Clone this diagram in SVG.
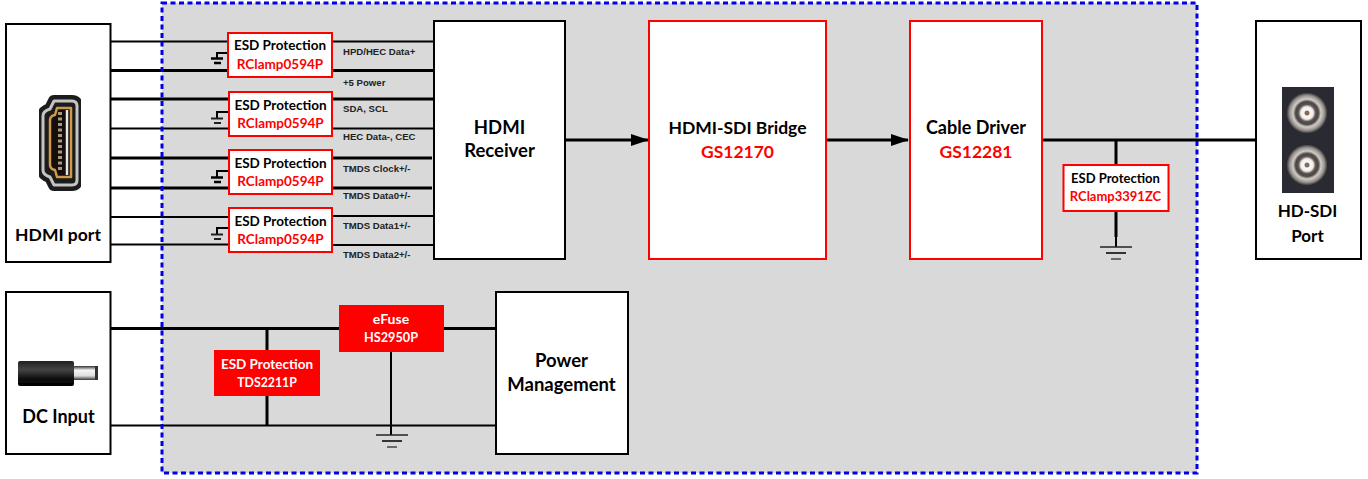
<svg xmlns="http://www.w3.org/2000/svg" width="1368" height="479" viewBox="0 0 1368 479">
<style>
text{font-family:"Lato","Open Sans","Liberation Sans",sans-serif;font-weight:700;text-anchor:middle;fill:#000}
.big{font-size:17.500px}
.lg{font-size:18.500px}
.esd{font-size:13.500px}
.red{fill:#f00}
.wht{fill:#fff}
.lab{font-family:"Liberation Sans",Arial,sans-serif;font-size:9.600px;text-anchor:start;fill:#222}
.box{fill:#fff;stroke:#000;stroke-width:2}
.rbox{fill:#fff;stroke:#f00;stroke-width:2}
.fbox{fill:#f00}
.w{fill:none;stroke:#000;stroke-width:2}
.t{fill:none;stroke:#000;stroke-width:3}
</style>
<defs>
<marker id="arr" markerUnits="userSpaceOnUse" markerWidth="18" markerHeight="12" refX="17" refY="6" orient="auto"><path d="M0,0 L18,6 L0,12 Z" fill="#000"/></marker>
<g id="gnd"><path d="M-16,0 H16" stroke="#222" stroke-width="1.500"/><path d="M-10,6 H10" stroke="#222" stroke-width="1.800"/><path d="M-5,12 H5" stroke="#444" stroke-width="1.500"/></g>
<radialGradient id="bnc"><stop offset="0" stop-color="#fff"/><stop offset=".3" stop-color="#f2f0ee"/><stop offset=".42" stop-color="#5e5450"/><stop offset=".55" stop-color="#4a4442"/><stop offset=".68" stop-color="#d0ccc8"/><stop offset=".85" stop-color="#99928e"/><stop offset="1" stop-color="#2e2e30"/></radialGradient>
<linearGradient id="jack" x1="0" y1="0" x2="0" y2="1"><stop offset="0" stop-color="#222"/><stop offset=".35" stop-color="#444"/><stop offset=".7" stop-color="#111"/><stop offset="1" stop-color="#000"/></linearGradient>
<linearGradient id="tip" x1="0" y1="0" x2="0" y2="1"><stop offset="0" stop-color="#333"/><stop offset=".3" stop-color="#f4f4f4"/><stop offset=".7" stop-color="#ddd"/><stop offset="1" stop-color="#333"/></linearGradient>
<filter id="soft" x="-10%" y="-10%" width="120%" height="120%"><feGaussianBlur stdDeviation=".7"/></filter>
</defs>

<rect id="region" x="162" y="3" width="1035" height="470" fill="#d9d9d9"/>

<g id="connectors">
<path class="w" d="M111,41.500 H228 M332,41.500 H434"/>
<path class="t" d="M111,70.500 H228 M332,70.500 H434"/>
<path class="t" d="M111,99 H228 M332,99 H434"/>
<path class="w" d="M111,128.500 H228 M332,128.500 H434"/>
<path class="t" d="M111,158 H228 M332,158 H432"/>
<path class="t" d="M111,188 H228 M332,188 H432"/>
<path class="w" d="M111,217 H228 M332,216 H434"/>
<path class="w" d="M111,244.500 H228 M332,245 H434"/>
<path class="w" d="M217,58 V53 H228 M217,118 V112 H228 M217,177 V171 H228 M217,234 V228 H228"/>
<path class="t" d="M565,140 H648" marker-end="url(#arr)"/>
<path class="t" d="M826,140 H908" marker-end="url(#arr)"/>
<path class="t" d="M1043,140 H1256"/>
<path class="t" d="M1116,140 V165 M1116,211 V237"/>
<path class="w" d="M1116,237 V247"/>
<path class="t" d="M111,328.500 H339 M444,328.500 H496"/>
<path class="w" d="M111,425.500 H496"/>
<path class="t" d="M267,328 V350 M267,396 V425"/>
<path class="w" d="M391,352 V435"/>
</g>

<g id="gnd-symbols">
<path d="M211,58.500 H223 M214,63 H221" stroke="#000" stroke-width="2.500"/>
<path d="M211,118.500 H223 M214,123 H221" stroke="#222" stroke-width="1.800"/>
<path d="M211,177.500 H223 M214,182 H221" stroke="#000" stroke-width="2.500"/>
<path d="M211,234.500 H223 M214,239 H221" stroke="#222" stroke-width="1.800"/>
<use href="#gnd" x="1116" y="247"/>
<use href="#gnd" x="392" y="435"/>
</g>

<rect id="boundary" x="162" y="3" width="1035" height="470" fill="none" stroke="#0000e6" stroke-width="3" stroke-dasharray="5 3.500"/>

<g id="hdmi-port">
<rect class="box" x="6" y="24" width="104.500" height="238"/>
<g filter="url(#soft)">
<path d="M54,101 H72 Q77,101 77,106 V180 Q77,185 72,185 H54 L50,177 Q43,175 43,170 V116 Q43,111 50,109 Z" fill="#111" stroke="#1c1c1c" stroke-width="12" stroke-linejoin="round"/>
<path d="M54,101 H72 Q77,101 77,106 V180 Q77,185 72,185 H54 L50,177 Q43,175 43,170 V116 Q43,111 50,109 Z" fill="#1a1a1a" stroke="#c4c4c4" stroke-width="3" stroke-linejoin="round"/>
<path d="M57,108 H71 V177 H57 L55,170 Q50,169 50,165 V120 Q50,116 55,115 Z" fill="#120c08" stroke="#cf9a4a" stroke-width="2.500" stroke-linejoin="round"/>
<path d="M60,112 V172" stroke="#a89a80" stroke-width="4" stroke-dasharray="3 2.500"/>
<path d="M67,110 V175" stroke="#e8e8e8" stroke-width="2.500"/>
</g>
<text class="big" x="58" y="241">HDMI port</text>
</g>

<g id="esd1"><rect class="rbox" x="228" y="33" width="104" height="44"/><text class="esd" x="280" y="50">ESD Protection</text><text class="esd red" x="280" y="68.500">RClamp0594P</text></g>
<g id="esd2"><rect class="rbox" x="229" y="92" width="103" height="44"/><text class="esd" x="280.500" y="110">ESD Protection</text><text class="esd red" x="280.500" y="128">RClamp0594P</text></g>
<g id="esd3"><rect class="rbox" x="229" y="150" width="103" height="44"/><text class="esd" x="280.500" y="168">ESD Protection</text><text class="esd red" x="280.500" y="186">RClamp0594P</text></g>
<g id="esd4"><rect class="rbox" x="229" y="208" width="103" height="44"/><text class="esd" x="280.500" y="226">ESD Protection</text><text class="esd red" x="280.500" y="244">RClamp0594P</text></g>

<g id="signal-labels">
<text class="lab" x="343" y="55">HPD/HEC Data+</text>
<text class="lab" x="343" y="86">+5 Power</text>
<text class="lab" x="343" y="112">SDA, SCL</text>
<text class="lab" x="343" y="140">HEC Data-, CEC</text>
<text class="lab" x="343" y="172">TMDS Clock+/-</text>
<text class="lab" x="343" y="199">TMDS Data0+/-</text>
<text class="lab" x="343" y="229">TMDS Data1+/-</text>
<text class="lab" x="343" y="258">TMDS Data2+/-</text>
</g>

<g id="hdmi-receiver"><rect class="box" x="434" y="21" width="131" height="238"/><text class="lg" x="499.500" y="134">HDMI</text><text class="lg" x="499.500" y="157">Receiver</text></g>
<g id="bridge"><rect class="rbox" x="649" y="21" width="177" height="238"/><text class="big" x="737.500" y="134">HDMI-SDI Bridge</text><text class="big red" x="737.500" y="158">GS12170</text></g>
<g id="cable-driver"><rect class="rbox" x="910" y="21" width="132" height="238"/><text class="lg" x="976" y="134" style="font-size:18px">Cable Driver</text><text class="big red" x="976" y="158">GS12281</text></g>
<g id="esd5"><rect class="rbox" x="1063.500" y="165" width="105" height="46"/><text class="esd" x="1115.500" y="183" style="font-size:13px">ESD Protection</text><text class="esd red" x="1115.500" y="201" style="font-size:13px">RClamp3391ZC</text></g>

<g id="hd-sdi-port">
<rect class="box" x="1256" y="21" width="105" height="238"/>
<g filter="url(#soft)">
<rect x="1282" y="87" width="52" height="106" fill="#2b2b30"/>
<circle cx="1307" cy="113" r="20.500" fill="url(#bnc)"/><circle cx="1307" cy="113" r="2.500" fill="#8a6a55"/>
<circle cx="1307" cy="165" r="20.500" fill="url(#bnc)"/><circle cx="1307" cy="165" r="2.500" fill="#8a6a55"/>
</g>
<text class="big" x="1307.500" y="217" style="font-size:17px">HD-SDI</text><text class="big" x="1307.500" y="242" style="font-size:17px">Port</text>
</g>

<g id="dc-input">
<rect class="box" x="6" y="292" width="104.500" height="162"/>
<g filter="url(#soft)">
<rect x="74" y="366" width="24" height="14" fill="url(#tip)"/>
<rect x="95" y="366" width="3" height="14" fill="#333"/>
<rect x="18" y="361" width="56" height="25" rx="2" fill="url(#jack)"/>
</g>
<text class="lg" x="58.500" y="423" style="font-size:18px">DC Input</text>
</g>

<g id="esd-tds"><rect class="fbox" x="214" y="350" width="106" height="46"/><text class="esd wht" x="267" y="369">ESD Protection</text><text class="esd wht" x="267" y="387" style="font-size:12.300px">TDS2211P</text></g>
<g id="efuse"><rect class="fbox" x="339" y="305" width="105" height="47"/><text class="esd wht" x="391" y="324" style="font-size:14px">eFuse</text><text class="esd wht" x="391" y="342" style="font-size:12.700px">HS2950P</text></g>
<g id="power-management"><rect class="box" x="496" y="292" width="132" height="162"/><text class="lg" x="561.500" y="367">Power</text><text class="lg" x="561.500" y="391">Management</text></g>
</svg>
